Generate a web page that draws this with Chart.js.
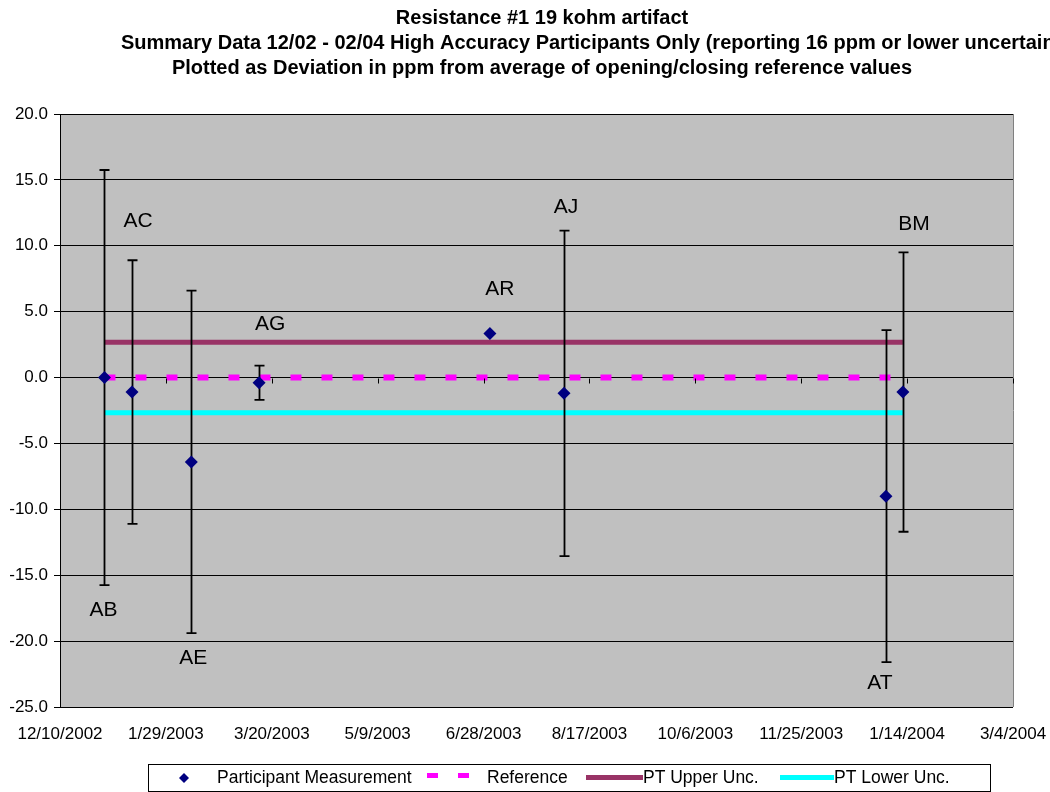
<!DOCTYPE html>
<html>
<head>
<meta charset="utf-8">
<script src="https://cdn.jsdelivr.net/npm/chart.js@4.4.0/dist/chart.umd.min.js"></script>
<style>
  html, body { margin: 0; padding: 0; background: #fff; }
  canvas { display: block; }
</style>
</head>
<body>
<canvas id="chart" width="1050" height="792"></canvas>
<script>
// participant results, deviation in ppm from reference
const participants = ['AB', 'AC', 'AE', 'AG', 'AR', 'AJ', 'AT', 'BM'];
const testDates = ['2002-12-31', '2003-01-13', '2003-02-10', '2003-03-14', '2003-07-01', '2003-08-05', '2004-01-04', '2004-01-12'];
const deviation = [0.0, -1.1, -6.4, -0.4, 3.35, -1.2, -9.0, -1.1];
const uncertainty = [15.75, 10.0, 13.0, 1.3, 0.1, 12.35, 12.6, 10.6];

// reference and PT limits
const referenceValue = 0.0;
const ptUpperUnc = 2.67;
const ptLowerUnc = -2.67;

// axis ticks
const xTickDates = ['2002-12-10', '2003-01-29', '2003-03-20', '2003-05-09', '2003-06-28', '2003-08-17', '2003-10-06', '2003-11-25', '2004-01-14', '2004-03-04'];
const yTicks = [-25, -20, -15, -10, -5, 0, 5, 10, 15, 20];

const titleLines = [
    'Resistance #1 19 kohm artifact',
    'Summary Data 12/02 - 02/04 High Accuracy Participants Only (reporting 16 ppm or lower uncertainty)',
    'Plotted as Deviation in ppm from average of opening/closing reference values'
];

const FONT = 'Arial, "Liberation Sans", sans-serif';

function toDay(s) {
    return Date.parse(s) / 86400000;
}
function fmtDay(v) {
    const d = new Date(Math.round(v) * 86400000);
    return (d.getUTCMonth() + 1) + '/' + d.getUTCDate() + '/' + d.getUTCFullYear();
}

const xs = testDates.map(toDay);
const lineAt = (val) => xs.map(x => ({ x: x, y: val }));

// labels: which ones sit under the error bar, plus small nudges
const labelPlace = {
    AB: { below: true, dx: -1, dy: 25 },
    AC: { below: false, dx: 6, dy: -39 },
    AE: { below: true, dx: 2, dy: 25 },
    AG: { below: false, dx: 11, dy: -41 },
    AR: { below: false, dx: 10, dy: -43 },
    AJ: { below: false, dx: 2, dy: -23 },
    AT: { below: true, dx: -6, dy: 21 },
    BM: { below: false, dx: 11, dy: -28 }
};

const plotStuff = {
    id: 'plotStuff',
    beforeDraw(chart) {
        const { ctx, chartArea: a } = chart;
        ctx.save();
        ctx.fillStyle = '#c0c0c0';
        ctx.fillRect(a.left, a.top, a.right - a.left, a.bottom - a.top);
        ctx.restore();
    },
    beforeDatasetDraw(chart, args) {
        // error bars go above the lines but under the markers
        if (args.index !== 0) return;
        const { ctx, scales: { x, y } } = chart;
        ctx.save();
        ctx.strokeStyle = '#000';
        ctx.lineWidth = 1.8;
        for (let i = 0; i < xs.length; i++) {
            if (uncertainty[i] < 0.5) continue;
            const px = Math.round(x.getPixelForValue(xs[i])) + 0.5;
            const top = y.getPixelForValue(deviation[i] + uncertainty[i]);
            const bot = y.getPixelForValue(deviation[i] - uncertainty[i]);
            ctx.beginPath();
            ctx.moveTo(px, top);
            ctx.lineTo(px, bot);
            ctx.moveTo(px - 5, top);
            ctx.lineTo(px + 5, top);
            ctx.moveTo(px - 5, bot);
            ctx.lineTo(px + 5, bot);
            ctx.stroke();
        }
        ctx.restore();
    },
    afterDraw(chart) {
        const { ctx, chartArea: a, scales: { x, y } } = chart;
        ctx.save();

        // right border of plot area
        ctx.strokeStyle = '#808080';
        ctx.lineWidth = 1;
        ctx.beginPath();
        ctx.moveTo(a.right + 0.5, a.top);
        ctx.lineTo(a.right + 0.5, a.bottom);
        ctx.stroke();

        // category axis crosses at zero, with tick marks below it
        const y0 = Math.round(y.getPixelForValue(0)) + 0.5;
        ctx.strokeStyle = '#000';
        ctx.beginPath();
        x.ticks.forEach(t => {
            const px = Math.round(x.getPixelForValue(t.value)) + 0.5;
            ctx.moveTo(px, y0);
            ctx.lineTo(px, y0 + 5);
        });
        ctx.stroke();

        // data labels
        ctx.fillStyle = '#000';
        ctx.font = '21px ' + FONT;
        ctx.textAlign = 'center';
        ctx.textBaseline = 'middle';
        participants.forEach((name, i) => {
            const p = labelPlace[name];
            const end = p.below ? deviation[i] - uncertainty[i] : deviation[i] + uncertainty[i];
            ctx.fillText(name, x.getPixelForValue(xs[i]) + p.dx, y.getPixelForValue(end) + p.dy);
        });

        // titles
        ctx.font = 'bold 20px ' + FONT;
        ctx.fillText(titleLines[0], 542, 18);
        ctx.textAlign = 'left';
        ctx.fillText(titleLines[1], 121, 43);
        ctx.textAlign = 'center';
        ctx.fillText(titleLines[2], 542, 68);

        // legend
        const ly = 778;
        ctx.strokeStyle = '#000';
        ctx.lineWidth = 1;
        ctx.strokeRect(148.5, 764.5, 842, 27);
        ctx.font = '17.5px ' + FONT;
        ctx.textAlign = 'left';

        ctx.fillStyle = '#000080';
        ctx.beginPath();
        ctx.moveTo(184, ly - 5);
        ctx.lineTo(189, ly);
        ctx.lineTo(184, ly + 5);
        ctx.lineTo(179, ly);
        ctx.closePath();
        ctx.fill();
        ctx.fillStyle = '#000';
        ctx.fillText('Participant Measurement', 217, ly);

        ctx.fillStyle = '#ff00ff';
        ctx.fillRect(427, ly - 5, 11, 5);
        ctx.fillRect(458, ly - 5, 11, 5);
        ctx.fillStyle = '#000';
        ctx.fillText('Reference', 487, ly);

        ctx.fillStyle = '#993366';
        ctx.fillRect(586, ly - 3, 57, 5);
        ctx.fillStyle = '#000';
        ctx.fillText('PT Upper Unc.', 643, ly);

        ctx.fillStyle = '#00ffff';
        ctx.fillRect(780, ly - 3, 54, 5);
        ctx.fillStyle = '#000';
        ctx.fillText('PT Lower Unc.', 834, ly);

        ctx.restore();
    }
};

new Chart(document.getElementById('chart'), {
    type: 'scatter',
    data: {
        datasets: [{
            label: 'Participant Measurement',
            data: xs.map((x, i) => ({ x: x, y: deviation[i] })),
            pointStyle: 'rectRot',
            pointRadius: 6.5,
            pointHoverRadius: 6.5,
            backgroundColor: '#000080',
            borderColor: '#000080',
            borderWidth: 0,
            showLine: false
        }, {
            label: 'Reference',
            type: 'line',
            data: lineAt(referenceValue),
            borderColor: '#ff00ff',
            borderWidth: 6,
            borderDash: [11, 20],
            pointRadius: 0,
            fill: false
        }, {
            label: 'PT Upper Unc.',
            type: 'line',
            data: lineAt(ptUpperUnc),
            borderColor: '#993366',
            borderWidth: 5,
            pointRadius: 0,
            fill: false
        }, {
            label: 'PT Lower Unc.',
            type: 'line',
            data: lineAt(ptLowerUnc),
            borderColor: '#00ffff',
            borderWidth: 5,
            pointRadius: 0,
            fill: false
        }]
    },
    options: {
        responsive: false,
        animation: false,
        devicePixelRatio: 1,
        layout: { padding: { top: 114, left: 0, right: 37, bottom: 0 } },
        plugins: {
            legend: { display: false },
            title: { display: false },
            tooltip: { enabled: false }
        },
        scales: {
            x: {
                type: 'linear',
                min: toDay(xTickDates[0]),
                max: toDay(xTickDates[xTickDates.length - 1]),
                afterBuildTicks: (scale) => {
                    scale.ticks = xTickDates.map(d => ({ value: toDay(d) }));
                },
                afterFit: (scale) => {
                    scale.height = 85;
                    scale.paddingLeft = 0;
                    scale.paddingRight = 0;
                },
                grid: { display: false, drawTicks: false },
                border: { display: false },
                ticks: {
                    padding: 17,
                    maxRotation: 0,
                    autoSkip: false,
                    color: '#000',
                    font: { family: FONT, size: 17 },
                    callback: (v) => fmtDay(v)
                }
            },
            y: {
                min: yTicks[0],
                max: yTicks[yTicks.length - 1],
                afterBuildTicks: (scale) => {
                    scale.ticks = yTicks.map(v => ({ value: v }));
                },
                afterFit: (scale) => { scale.width = 60; },
                grid: { color: '#000', lineWidth: 1, tickLength: 6, tickColor: '#000' },
                border: { display: true, color: '#000', width: 1 },
                ticks: {
                    padding: 6,
                    color: '#000',
                    font: { family: FONT, size: 17 },
                    callback: (v) => v.toFixed(1)
                }
            }
        }
    },
    plugins: [plotStuff]
});
</script>
</body>
</html>
